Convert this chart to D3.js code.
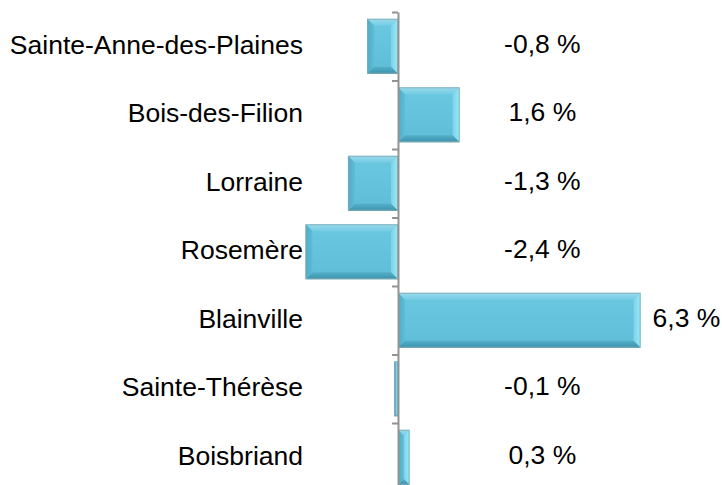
<!DOCTYPE html>
<html>
<head>
<meta charset="utf-8">
<script src="https://cdn.jsdelivr.net/npm/d3@7"></script>
<style>
  body { margin: 0; background: #fff; }
  text { font-family: "Liberation Sans", Arial, sans-serif; fill: #000; }
</style>
</head>
<body>
<div id="chart-area"></div>
<script>
// data
const towns = ['Sainte-Anne-des-Plaines', 'Bois-des-Filion', 'Lorraine', 'Rosemère',
  'Blainville', 'Sainte-Thérèse', 'Boisbriand']
const changes = [-0.8, 1.6, -1.3, -2.4, 6.3, -0.1, 0.3]
const changeLabels = ['-0,8 %', '1,6 %', '-1,3 %', '-2,4 %', '6,3 %', '-0,1 %', '0,3 %']

const width = 722, height = 485

let svg = d3.select('#chart-area')
  .append('svg')
  .attr('width', width)
  .attr('height', height)

let data = towns.map((t, i) => ({ town: t, value: changes[i], label: changeLabels[i] }))

// gradients for the bevel edges
let defs = svg.append('defs')
const grads = [
  { id: 'bv-top', x2: 0, y2: 1, c0: '#98dcee', c1: '#74cbe3' },
  { id: 'bv-right', x2: 1, y2: 0, c0: '#7ad4ea', c1: '#9ae8f7' },
  { id: 'bv-bottom', x2: 0, y2: 1, c0: '#55b0ca', c1: '#3a93ac' },
  { id: 'bv-left', x2: 1, y2: 0, c0: '#4fabc6', c1: '#5fbdd7' },
  { id: 'bv-face', x2: 0, y2: 1, c0: '#6bc8e1', c1: '#5fbdd8' }
]
grads.forEach(gd => {
  let lg = defs.append('linearGradient')
    .attr('id', gd.id)
    .attr('x1', 0).attr('y1', 0).attr('x2', gd.x2).attr('y2', gd.y2)
  lg.append('stop').attr('offset', '0%').attr('stop-color', gd.c0)
  lg.append('stop').attr('offset', '100%').attr('stop-color', gd.c1)
})

// scales
let x = d3.scaleLinear()
  .domain([-3, 7])
  .range([282.5, 667.5])

let y = d3.scaleBand()
  .domain(towns)
  .range([12, 491.5])
  .paddingInner(0.2)
  .paddingOuter(0.1)

// boundaries between categories, for the ticks
let yEdge = d3.scaleLinear()
  .domain([0, towns.length])
  .range([12, 491.5])

// bars with bevel
let bars = svg.append('g').attr('class', 'bars')

data.forEach(d => {
  let x0 = Math.min(x(0), x(d.value)), x1 = Math.max(x(0), x(d.value))
  let y0 = y(d.town), y1 = y0 + y.bandwidth()
  let b = Math.min(7, (x1 - x0) / 2, (y1 - y0) / 2)
  let g = bars.append('g')

  g.append('rect')
    .attr('x', x0).attr('y', y0)
    .attr('width', x1 - x0).attr('height', y1 - y0)
    .attr('fill', 'url(#bv-face)')

  const faces = [
    { fill: 'url(#bv-top)', pts: [[x0, y0], [x1, y0], [x1 - b, y0 + b], [x0 + b, y0 + b]] },
    { fill: 'url(#bv-right)', pts: [[x1, y0], [x1, y1], [x1 - b, y1 - b], [x1 - b, y0 + b]] },
    { fill: 'url(#bv-bottom)', pts: [[x0, y1], [x1, y1], [x1 - b, y1 - b], [x0 + b, y1 - b]] },
    { fill: 'url(#bv-left)', pts: [[x0, y0], [x0 + b, y0 + b], [x0 + b, y1 - b], [x0, y1]] }
  ]
  faces.forEach(f => {
    g.append('polygon')
      .attr('points', f.pts.map(p => p.join(',')).join(' '))
      .attr('fill', f.fill)
  })

  g.append('rect')
    .attr('x', x0 + 0.5).attr('y', y0 + 0.5)
    .attr('width', Math.max(0, x1 - x0 - 1)).attr('height', y1 - y0 - 1)
    .attr('fill', 'none')
    .attr('stroke', '#8aa9b2')
    .attr('stroke-opacity', 0.8)
    .attr('stroke-width', 1)
})

// axis at zero
let yAxisCall = d3.axisLeft(yEdge)
  .tickValues(d3.range(0, towns.length + 1))
  .tickFormat('')
  .tickSizeInner(6)
  .tickSizeOuter(0)

let yAxisGroup = svg.append('g')
  .attr('transform', 'translate(' + x(0) + ',0)')
  .call(yAxisCall)
yAxisGroup.select('.domain').attr('stroke', '#939393').attr('stroke-width', 2)
yAxisGroup.selectAll('.tick line').attr('stroke', '#939393').attr('stroke-width', 2)

// category labels
svg.append('g')
  .selectAll('text')
  .data(data)
  .enter()
  .append('text')
  .attr('x', 303)
  .attr('y', d => y(d.town) + y.bandwidth() / 2 - 2)
  .attr('dy', '0.35em')
  .attr('text-anchor', 'end')
  .attr('font-size', '26.5px')
  .text(d => d.town)

// value labels
svg.append('g')
  .selectAll('text')
  .data(data)
  .enter()
  .append('text')
  .attr('x', d => d.value > 3 ? x(d.value) + 12 : x(3.75))
  .attr('y', d => y(d.town) + y.bandwidth() / 2 - 3)
  .attr('dy', '0.35em')
  .attr('text-anchor', d => d.value > 3 ? 'start' : 'middle')
  .attr('font-size', '26.5px')
  .text(d => d.label)
</script>
</body>
</html>
